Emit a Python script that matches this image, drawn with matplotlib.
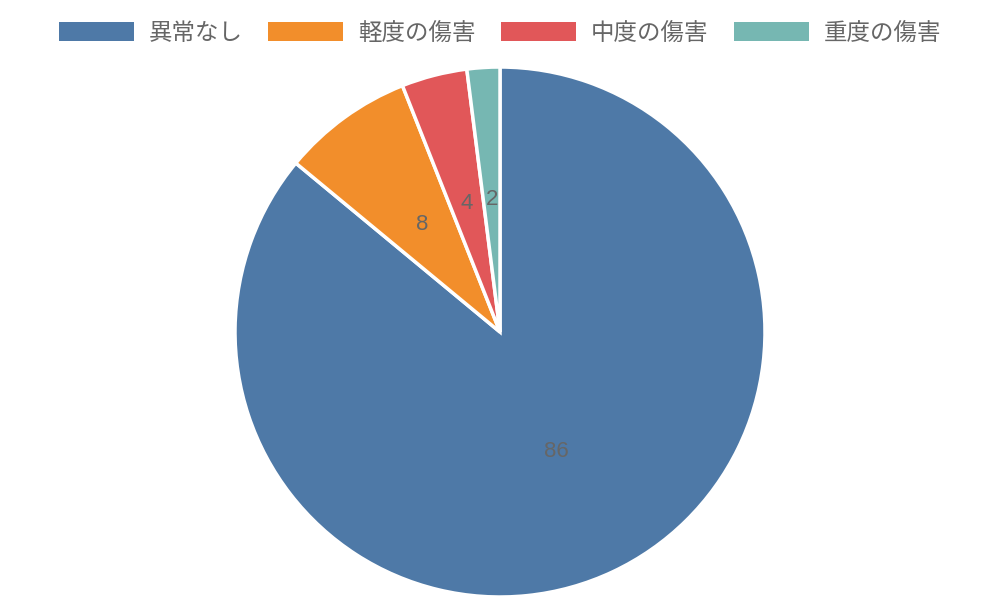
import matplotlib
matplotlib.use('Agg')
import matplotlib.pyplot as plt
from matplotlib.patches import Patch

plt.rcParams['font.family'] = ['Liberation Sans', 'Noto Sans CJK JP', 'DejaVu Sans']

categories = ['異常なし', '軽度の傷害', '中度の傷害', '重度の傷害']
values = [86, 8, 4, 2]
colors = ['#4e79a7', '#f28e2b', '#e15759', '#76b7b2']

fig = plt.figure(figsize=(10, 6), dpi=100)
ax = fig.add_axes([0.235, 0.005, 0.53, 0.8833])

wedges, texts = ax.pie(values, colors=colors, startangle=90, counterclock=False,
                       labels=[str(v) for v in values], labeldistance=0.5,
                       wedgeprops=dict(edgecolor='white', linewidth=2.5),
                       textprops=dict(color='#666666', fontsize=16))
for t in texts:
    t.set_horizontalalignment('center')
    t.set_verticalalignment('center')
ax.set_xlim(-1.0, 1.0)
ax.set_ylim(-1.0, 1.0)
ax.set_aspect('equal')
ax.axis('off')

handles = [Patch(facecolor=c, edgecolor='none') for c in colors]
fig.legend(handles, categories, loc='center', bbox_to_anchor=(0.5, 0.945), ncol=4,
           frameon=False, fontsize=16.9, labelcolor='#666666',
           handlelength=3.2, handleheight=0.85, handletextpad=0.64, columnspacing=1.07)

fig.savefig('out.png', dpi=100, facecolor='white')
